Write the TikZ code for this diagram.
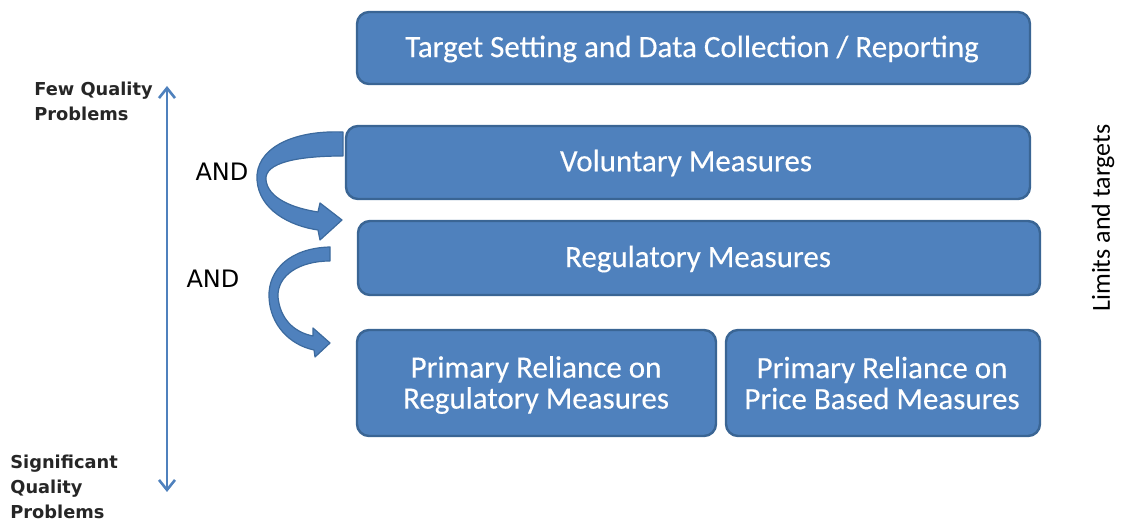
\documentclass[tikz,border=0pt]{standalone}
\usepackage{fontspec}
\setmainfont{Carlito}
\newfontfamily\boxfont[FakeBold=0.3]{Carlito}
\newfontfamily\lblfont{DejaVu Sans}
\usetikzlibrary{arrows.meta}
\definecolor{boxblue}{HTML}{4F81BD}
\definecolor{boxedge}{HTML}{3A6594}
\definecolor{arrowdark}{HTML}{3C6A9E}
\tikzset{
  bluebox/.style={draw=boxedge, line width=1.2pt, fill=boxblue, rounded corners=6pt},
  boxtext/.style={text=white, font=\boxfont\fontsize{15.5}{15.5}\selectfont, align=center, inner sep=0pt},
  sidelbl/.style={font=\lblfont\bfseries\fontsize{8.9}{12.5}\selectfont, align=left, anchor=north west, inner sep=0pt, text=black!85},
  andlbl/.style={font=\lblfont\fontsize{12}{14}\selectfont, inner sep=0pt},
  curvearrow/.style={fill=boxblue, draw=arrowdark, line width=0.6pt, line join=round}
}
\begin{document}
\begin{tikzpicture}[x=0.5pt, y=-0.5pt]
\useasboundingbox (0,0) rectangle (1124,522);
% boxes
\draw[bluebox] (357,12) rectangle (1030,84);
\node[boxtext] (t1) at (692,49) {Target Setting and Data Collection / Reporting};
\draw[bluebox] (346,126) rectangle (1030,199);
\node[boxtext] (t2) at (686,163) {Voluntary Measures};
\draw[bluebox] (358,221) rectangle (1040,295);
\node[boxtext] (t3) at (698,259) {Regulatory Measures};
\draw[bluebox] (357,330) rectangle (716,436);
\node[boxtext] (t4) at (536,385) {Primary Reliance on\\Regulatory Measures};
\draw[bluebox] (726,330) rectangle (1040,436);
\node[boxtext] (t5) at (882,383) {Primary Reliance on\\Price Based Measures};
% vertical double arrow
\coordinate (vtop) at (167,86);
\coordinate (vbot) at (167,492);
\draw[draw=boxblue, line width=1.3pt, {Straight Barb[length=5pt,width=8pt]}-{Straight Barb[length=5pt,width=8pt]}] (vtop) -- (vbot);
% side labels
\node[sidelbl] (few) at (34,82) {Few Quality\\Problems};
\node[sidelbl] (sig) at (10,455) {Significant\\Quality\\Problems};
\node[andlbl] (and1) at (222,172) {AND};
\node[andlbl] (and2) at (213,279) {AND};
% curved arrows
\draw[curvearrow] (343,132) .. controls (290,130) and (255,150) .. (257,180)
  .. controls (259,210) and (290,226) .. (318,230) -- (320,240) -- (342,220) -- (320,203) -- (318,212)
  .. controls (292,208) and (268,198) .. (266,180)
  .. controls (264,162) and (300,156) .. (343,156) -- cycle;
\draw[curvearrow] (330,247) .. controls (290,248) and (268,270) .. (269,297)
  .. controls (270,325) and (290,345) .. (314,350) -- (315,357) -- (330,343) -- (313,328) -- (313,336)
  .. controls (293,332) and (280,318) .. (278,297)
  .. controls (277,275) and (300,261) .. (330,261) -- cycle;
% right label
\node[font=\fontsize{13}{15}\selectfont, rotate=90, inner sep=0pt] (lim) at (1103,218) {Limits and targets};
\end{tikzpicture}
\end{document}
